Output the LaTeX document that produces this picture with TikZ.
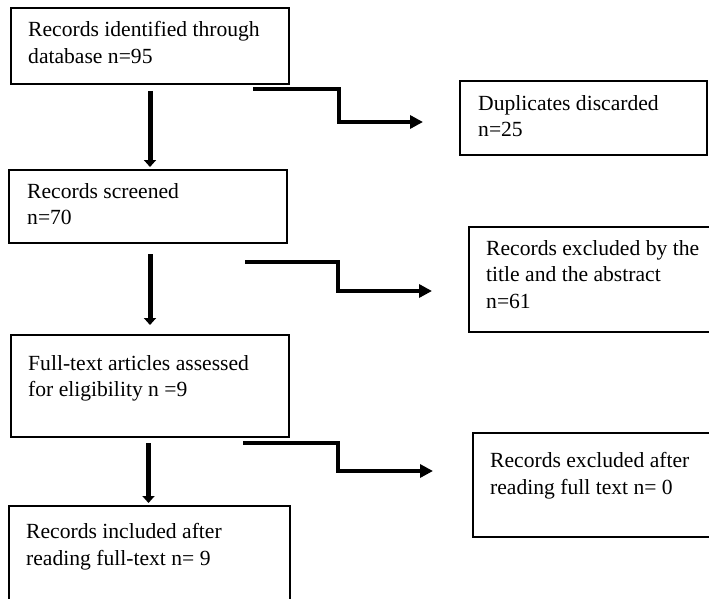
\documentclass[tikz,border=0pt]{standalone}
\usepackage{fontspec}
\setmainfont{Liberation Serif}
\usetikzlibrary{positioning,arrows.meta}

\begin{document}
\begin{tikzpicture}[x=1pt,y=-1pt,
  box/.style={draw,line width=1.5pt,inner sep=0pt,outer sep=0pt},
  txt/.style={inner sep=0pt,align=left,font=\fontsize{21.6}{26.5}\selectfont},
  down/.style={line width=5pt,-{Triangle[width=12pt,length=7pt]}},
  side/.style={line width=3.5pt,-{Triangle[width=13pt,length=13pt]}}]
\clip (0,0) rectangle (709,599);

% main column
\node[box,minimum width=278pt,minimum height=76pt] (ident) at (150,46) {};
\node[txt,below right=13.2pt and 17pt of ident.north west] (identtxt) {Records identified through\\database n=95};

\node[box,minimum width=278pt,minimum height=73pt] (screen) at (148,206.5) {};
\node[txt,below right=13.2pt and 18pt of screen.north west] (screentxt) {Records screened\\n=70};

\node[box,minimum width=278pt,minimum height=102pt] (full) at (150,386) {};
\node[txt,below right=20.2pt and 17pt of full.north west] (fulltxt) {Full-text articles assessed\\for eligibility n =9};

\node[box,minimum width=281pt,minimum height=100pt] (incl) at (149.5,556) {};
\node[txt,below right=17.2pt and 17pt of incl.north west] (incltxt) {Records included after\\reading full-text n= 9};

% side boxes
\node[box,minimum width=247pt,minimum height=74pt] (dup) at (583.5,118) {};
\node[txt,below right=14.2pt and 18pt of dup.north west] (duptxt) {Duplicates discarded\\n=25};

\node[box,minimum width=243pt,minimum height=105pt] (excla) at (590.5,279.5) {};
\node[txt,below right=13.2pt and 17pt of excla.north west] (exclatxt) {Records excluded by the\\title and the abstract\\n=61};

\node[box,minimum width=239pt,minimum height=104pt] (exclb) at (592.5,485) {};
\node[txt,below right=19.2pt and 17pt of exclb.north west] (exclbtxt) {Records excluded after\\reading full text n= 0};

% down arrows
\draw[down] ([yshift=-7pt]ident.south) -- ([yshift=3pt]ident.south |- screen.north);
\draw[down] ([xshift=2pt,yshift=-11pt]screen.south) -- ([yshift=10pt]full.north);
\draw[down] ([xshift=-1.5pt,yshift=-6pt]full.south) -- ([xshift=-1pt,yshift=3pt]incl.north);

% side arrows
\coordinate (sa) at (253,89);
\coordinate (sb) at (245,262);
\coordinate (sc) at (243,443);
\draw[side] (sa) -- ++(86,0) |- ([xshift=-37pt,yshift=-4pt]dup.west);
\draw[side] (sb) -- ++(93,0) |- ([xshift=-37pt,yshift=-11.5pt]excla.west);
\draw[side] (sc) -- ++(95,0) |- ([xshift=-40pt,yshift=14pt]exclb.west);

\end{tikzpicture}
\end{document}
